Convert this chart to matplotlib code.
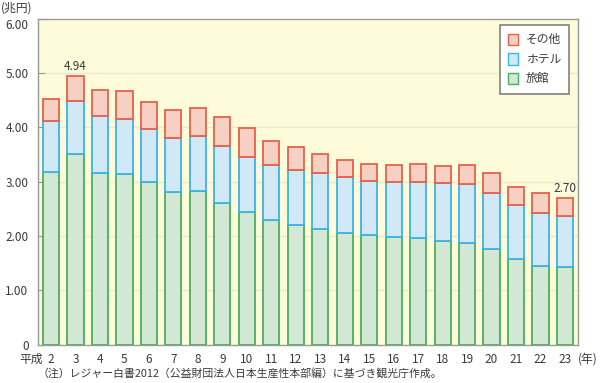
import numpy as np
import matplotlib
matplotlib.use("Agg")
import matplotlib.pyplot as plt
from matplotlib.patches import Patch

plt.rcParams['font.family'] = ['Noto Sans CJK JP', 'DejaVu Sans']

# ==========================================
# Data (兆円)
# ==========================================

years = ["2", "3", "4", "5", "6", "7", "8", "9", "10", "11", "12",
         "13", "14", "15", "16", "17", "18", "19", "20", "21", "22", "23"]

ryokan = [3.18, 3.50, 3.15, 3.14, 3.00, 2.81, 2.83, 2.60, 2.44, 2.30, 2.20,
          2.13, 2.06, 2.01, 1.97, 1.96, 1.90, 1.86, 1.75, 1.58, 1.45, 1.42]
hotel = [0.93, 0.98, 1.06, 1.01, 0.97, 1.00, 1.01, 1.05, 1.01, 1.01, 1.02,
         1.02, 1.02, 1.00, 1.02, 1.03, 1.07, 1.09, 1.04, 0.98, 0.98, 0.94]
other = [0.41, 0.46, 0.48, 0.51, 0.49, 0.51, 0.52, 0.53, 0.53, 0.44, 0.42,
         0.36, 0.32, 0.31, 0.32, 0.33, 0.32, 0.36, 0.36, 0.34, 0.35, 0.34]

labels = {1: "4.94", 21: "2.70"}

yticks = [0, 1, 2, 3, 4, 5, 6]
ytick_labels = ["0", "1.00", "2.00", "3.00", "4.00", "5.00", "6.00"]

# ==========================================
# Plot
# ==========================================

green_fill, green_edge = "#d2e8d4", "#4aaf5e"
blue_fill, blue_edge = "#d1e9f7", "#3cb3e4"
red_fill, red_edge = "#f7d0c4", "#e6614b"
text_col = "#3a3a3a"

fig = plt.figure(figsize=(6, 3.83), dpi=100)
ax = fig.add_axes([0.0638, 0.1005, 0.899, 0.851])
ax.set_facecolor("#fefbda")

x = np.arange(len(years))
w = 0.66
b1 = np.array(ryokan)
b2 = b1 + np.array(hotel)

ax.bar(x, ryokan, w, color=green_fill, edgecolor=green_edge, linewidth=1.3, zorder=3)
ax.bar(x, hotel, w, bottom=b1, color=blue_fill, edgecolor=blue_edge, linewidth=1.3, zorder=3)
ax.bar(x, other, w, bottom=b2, color=red_fill, edgecolor=red_edge, linewidth=1.3, zorder=3)

tops = b2 + np.array(other)
for i, s in labels.items():
    ax.text(x[i], tops[i] + 0.05, s, ha="center", va="bottom",
            fontsize=8.5, color=text_col)

ax.set_xlim(-0.52, 21.52)
ax.set_ylim(0, 6)
ax.set_yticks(yticks)
ax.set_yticklabels(ytick_labels, fontsize=8.5, color=text_col)
ax.set_xticks(x)
ax.set_xticklabels(years, fontsize=8.5, color=text_col)
ax.tick_params(axis="y", direction="in", length=5, color="#999999", pad=7)
ax.tick_params(axis="x", length=0, pad=6)
# the top label sits a little lower in the original
ax.get_yticklabels()[-1].set_va("top")

for y in yticks[1:6]:
    ax.axhline(y, color="#ece8cc", linewidth=1, zorder=1)

for sp in ax.spines.values():
    sp.set_color("#9a9a9a")
    sp.set_linewidth(1)

handles = [Patch(facecolor=red_fill, edgecolor=red_edge, label="その他"),
           Patch(facecolor=blue_fill, edgecolor=blue_edge, label="ホテル"),
           Patch(facecolor=green_fill, edgecolor=green_edge, label="旅館")]
leg = ax.legend(handles=handles, loc="upper right", fontsize=8.5,
                fancybox=False, framealpha=1, edgecolor="#777777",
                handlelength=0.9, handleheight=1.1, handletextpad=0.6,
                borderpad=0.7, labelspacing=0.55, borderaxespad=0,
                bbox_to_anchor=(0.984, 0.98))
leg.get_frame().set_linewidth(1.1)
for t in leg.get_texts():
    t.set_color(text_col)

fig.text(0.002, 0.997, "(兆円)", fontsize=8.5, color=text_col, ha="left", va="top")
fig.text(0.032, 0.062, "平成", fontsize=8.5, color=text_col, ha="left", va="center")
fig.text(0.996, 0.062, "(年)", fontsize=8.5, color=text_col, ha="right", va="center")
fig.text(0.062, 0.012, "（注）レジャー白書2012（公益財団法人日本生産性本部編）に基づき観光庁作成。",
         fontsize=7.8, color=text_col, ha="left", va="bottom")

fig.savefig("out.png", dpi=100)
